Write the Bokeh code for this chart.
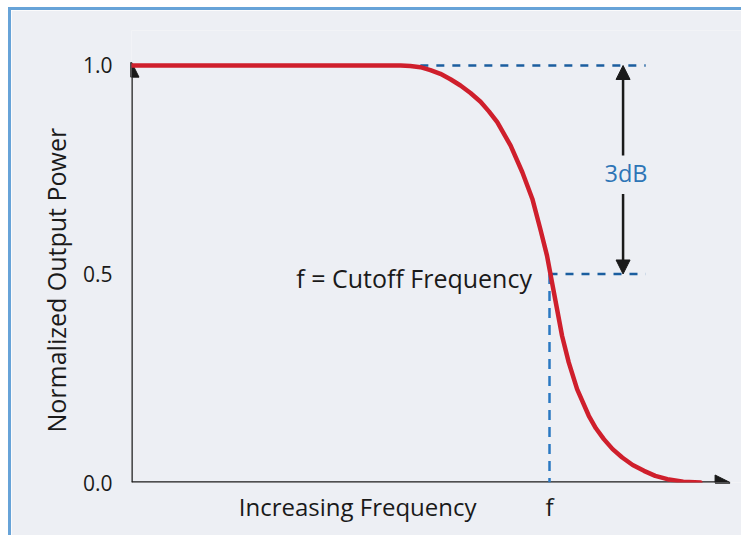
from bokeh.plotting import figure
from bokeh.models import Range1d, FixedTicker, Arrow, NormalHead, Label, Title
from bokeh.embed import file_html
from bokeh.resources import INLINE

# ---- data (frequency in units of the cutoff frequency f) ----
freq = [0.0, 0.644, 0.667, 0.691, 0.715, 0.739, 0.763, 0.787, 0.811, 0.835, 0.855,
        0.875, 0.907, 0.935, 0.959, 0.978, 0.994, 1.006, 1.018, 1.030, 1.046, 1.066,
        1.094, 1.111, 1.130, 1.151, 1.174, 1.199, 1.226, 1.253, 1.282, 1.320, 1.361]
power = [1.0, 1.0, 0.999, 0.996, 0.989, 0.980, 0.967, 0.952, 0.934, 0.913, 0.890,
         0.864, 0.808, 0.744, 0.680, 0.608, 0.544, 0.480, 0.416, 0.352, 0.288, 0.224,
         0.160, 0.130, 0.104, 0.080, 0.060, 0.042, 0.028, 0.016, 0.008, 0.002, 0.0]

y_ticks = [0.0, 0.5, 1.0]
y_tick_labels = ["0.0", "0.5", "1.0"]
x_ticks = [0.541, 1.0]
x_tick_labels = ["Increasing Frequency", "f"]

cutoff_f = 1.0
cutoff_power = 0.5
full_power = 1.0
db_text = "3dB"
cutoff_text = "f = Cutoff Frequency"
y_title = "Normalized Output Power"

FONT = "Open Sans"
BG = "#edeff4"
INK = "#1a1a1a"
RED = "#cf1f2c"
BLUE = "#1b5e9f"
BLUE2 = "#2a78c2"

p = figure(width=733, height=528, output_backend="svg", toolbar_location=None,
           x_range=Range1d(0, 1.4665), y_range=Range1d(0, 1.0839),
           min_border_left=120, min_border_right=0, min_border_top=20,
           min_border_bottom=56)
p.styles = {"border-top": "3px solid #67a3d8", "border-left": "3px solid #67a3d8",
            "margin-left": "8px", "margin-top": "7px"}
p.background_fill_color = BG
p.border_fill_color = BG
p.outline_line_color = None
p.grid.visible = False

# y axis
ya = p.yaxis[0]
ya.ticker = FixedTicker(ticks=y_ticks)
ya.major_label_overrides = {t: l for t, l in zip(y_ticks, y_tick_labels)}
ya.axis_line_color = None
ya.major_tick_line_color = None
ya.minor_tick_line_color = None
ya.major_label_standoff = 13
ya.major_label_text_font = FONT
ya.major_label_text_font_size = "21px"
ya.major_label_text_color = INK

# x axis
xa = p.xaxis[0]
xa.ticker = FixedTicker(ticks=x_ticks)
xa.major_label_overrides = {t: l for t, l in zip(x_ticks, x_tick_labels)}
xa.axis_line_color = None
xa.major_tick_line_color = None
xa.minor_tick_line_color = None
xa.major_label_standoff = 1
xa.major_label_text_font = FONT
xa.major_label_text_font_size = "24px"
xa.major_label_text_color = INK

# y-axis title, set slightly below the frame centre as in the original
p.add_layout(Title(text=y_title, align="left", offset=50, text_font=FONT,
                   text_font_size="25px", text_font_style="normal", text_color=INK,
                   standoff=14), "left")

# axis arrows
for xs, ys, xe, ye in [(0, 0, 0, 1.008), (0, 0, 1.432, 0)]:
    a = Arrow(x_start=xs, y_start=ys, x_end=xe, y_end=ye, line_width=2.5, line_color=INK,
              end=NormalHead(size=15, fill_color=INK, line_color=INK, line_width=1))
    a.level = "underlay"
    p.add_layout(a)

# dashed guides
p.segment(x0=[0.691, cutoff_f], y0=[full_power, cutoff_power],
          x1=[1.230, 1.230], y1=[full_power, cutoff_power],
          line_color=BLUE, line_width=2.5, line_dash="8 8")
p.segment(x0=[cutoff_f], y0=[cutoff_power], x1=[cutoff_f], y1=[0],
          line_color=BLUE2, line_width=2.5, line_dash="10 7")

# response curve
p.line(freq, power, line_color=RED, line_width=4.5, line_join="round", line_cap="round")

# 3dB arrows
x3 = 1.176
for ys, ye in [(0.784, full_power), (0.692, cutoff_power)]:
    p.add_layout(Arrow(x_start=x3, y_start=ys, x_end=x3, y_end=ye, line_width=2.5,
                       line_color=INK,
                       end=NormalHead(size=14, fill_color=INK, line_color=INK, line_width=1)))

p.add_layout(Label(x=1.183, y=0.743, text=db_text, text_align="center", text_baseline="middle",
                   text_font=FONT, text_font_size="23.5px", text_color="#2e75b6"))
p.add_layout(Label(x=0.958, y=0.491, text=cutoff_text, text_align="right",
                   text_baseline="alphabetic", text_font=FONT, text_font_size="25px",
                   text_color=INK))

open("out.html", "w").write(file_html(p, INLINE))
